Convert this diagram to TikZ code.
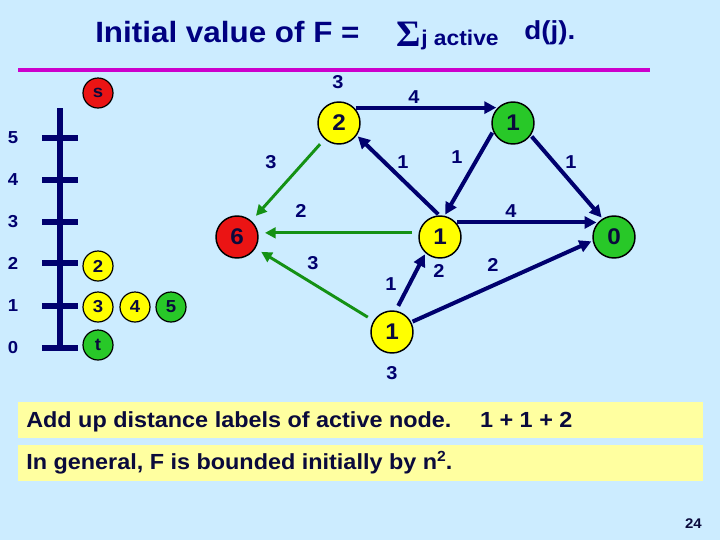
\documentclass[tikz,border=0pt]{standalone}
\usepackage{fontspec}
\setmainfont{Liberation Sans}
\newfontfamily\wfont[FakeStretch=1.07]{Liberation Sans}
\newfontfamily\sigfont{Liberation Serif}
\usetikzlibrary{arrows.meta}
\definecolor{bg}{RGB}{204,236,255}
\definecolor{navy}{RGB}{0,0,110}
\definecolor{titleblue}{RGB}{0,0,128}
\definecolor{dark}{RGB}{10,10,60}
\definecolor{magline}{RGB}{204,0,204}
\definecolor{gedge}{RGB}{20,145,20}
\definecolor{gnode}{RGB}{40,200,40}
\definecolor{ynode}{RGB}{255,255,0}
\definecolor{rnode}{RGB}{235,20,20}
\definecolor{ybox}{RGB}{255,255,160}
\tikzset{
  bignode/.style={circle, draw=black, line width=1.1pt, minimum size=31.5pt, inner sep=0pt,
    font=\wfont\fontsize{17}{17}\selectfont\bfseries, text=dark},
  smallnode/.style={circle, draw=black, line width=0.9pt, minimum size=22.5pt, inner sep=0pt,
    font=\wfont\fontsize{13}{13}\selectfont\bfseries, text=dark},
  navyedge/.style={draw=navy, line width=3pt, -{Triangle[length=9pt,width=9pt]}, shorten >=1pt, shorten <=1pt},
  greenedge/.style={draw=gedge, line width=2.2pt, -{Triangle[length=8pt,width=8pt]}, shorten >=5pt, shorten <=5pt},
  elabel/.style={font=\wfont\fontsize{14}{14}\selectfont\bfseries, text=navy, inner sep=0pt},
  ladlabel/.style={font=\wfont\fontsize{13}{13}\selectfont\bfseries, text=navy, inner sep=0pt},
  ladder/.style={draw=navy, line width=4.5pt},
  boxtext/.style={font=\wfont\fontsize{16.4}{16.4}\selectfont\bfseries, text=dark, inner sep=0pt, anchor=base west},
}
\begin{document}
\begin{tikzpicture}[x=0.75pt,y=-0.75pt]
\useasboundingbox (0,0) rectangle (720,540);
\fill[bg] (0,0) rectangle (720,540);

% title
\node[anchor=base west, inner sep=0pt, text=titleblue, font=\wfont\fontsize{22}{22}\selectfont\bfseries] (title) at (95,42) {Initial value of F =};
\node[anchor=base west, inner sep=0pt, text=titleblue, font=\fontsize{28}{28}\selectfont\sigfont\bfseries] (sigma) at (396,46) {Σ};
\node[anchor=base west, inner sep=0pt, text=titleblue, font=\wfont\fontsize{16}{16}\selectfont\bfseries] (sub) at (421,45) {j active};
\node[anchor=base west, inner sep=0pt, text=titleblue, font=\wfont\fontsize{19.5}{19.5}\selectfont\bfseries] (dj) at (524,39) {d(j).};
\coordinate (ml) at (18,70);
\coordinate (mr) at (650,70);
\draw[magline, line width=3.2pt] (ml) -- (mr);

% ladder
\coordinate (lt) at (60,108);
\coordinate (lb) at (60,350);
\draw[ladder] (lt) -- (lb);
\foreach \v/\yy in {5/138,4/180,3/222,2/263,1/306,0/348}{
  \coordinate (tl\v) at (42,\yy);
  \coordinate (tr\v) at (78,\yy);
  \draw[ladder] (tl\v) -- (tr\v);
  \node[ladlabel] (ll\v) at (13,\yy) {\v};
}
\node[smallnode, fill=rnode] (ss) at (98,93) {s};
\node[smallnode, fill=ynode] (s2) at (98,266) {2};
\node[smallnode, fill=ynode] (s3) at (98,307) {3};
\node[smallnode, fill=ynode] (s4) at (135,307) {4};
\node[smallnode, fill=gnode] (s5) at (171,307) {5};
\node[smallnode, fill=gnode] (st) at (98,345) {t};

% graph nodes
\node[bignode, fill=ynode] (A) at (339,123) {2};
\node[bignode, fill=gnode] (B) at (513,123) {1};
\node[bignode, fill=ynode] (C) at (440,237) {1};
\node[bignode, fill=gnode] (D) at (614,237) {0};
\node[bignode, fill=ynode] (E) at (392,332) {1};
\node[bignode, fill=rnode] (F) at (237,237) {6};

% navy edges
\draw[navyedge] (A.45) -- (B.135);
\draw[navyedge] (C.92) -- (A.-35);
\draw[navyedge] (B.203) -- (C.78);
\draw[navyedge] (B.-35) -- (D.122);
\draw[navyedge] (C.42) -- (D.138);
\draw[navyedge, shorten <=4pt] (E.80) -- (C.228);
\draw[navyedge] (E.27) -- (D.190);

% green edges
\draw[greenedge] (A) -- (F);
\draw[greenedge] (C.169) -- (F.11);
\draw[greenedge] (E) -- (F);

% edge labels
\node[elabel] (lA) at (338,82) {3};
\node[elabel] (lAB) at (414,97) {4};
\node[elabel] (lCA) at (403,162) {1};
\node[elabel] (lBC) at (457,157) {1};
\node[elabel] (lBD) at (571,162) {1};
\node[elabel] (lAF) at (271,162) {3};
\node[elabel] (lCF) at (301,211) {2};
\node[elabel] (lCD) at (511,211) {4};
\node[elabel] (lEF) at (313,263) {3};
\node[elabel] (lC) at (439,271) {2};
\node[elabel] (lED) at (493,265) {2};
\node[elabel] (lEC) at (391,284) {1};
\node[elabel] (lE) at (392,373) {3};

% boxes
\fill[ybox] (18,402) rectangle (703,438);
\fill[ybox] (18,445) rectangle (703,481);
\node[boxtext] (t1) at (26,427) {Add up distance labels of active node.\hspace{15pt} 1 + 1 + 2};
\node[boxtext] (t2) at (26,469) {In general, F is bounded initially by n\raisebox{0.36em}{\fontsize{11}{11}\selectfont 2}.};

\node[anchor=base east, inner sep=0pt, text=dark, font=\wfont\fontsize{10.5}{10.5}\selectfont\bfseries] (pg) at (702,528) {24};
\end{tikzpicture}
\end{document}
